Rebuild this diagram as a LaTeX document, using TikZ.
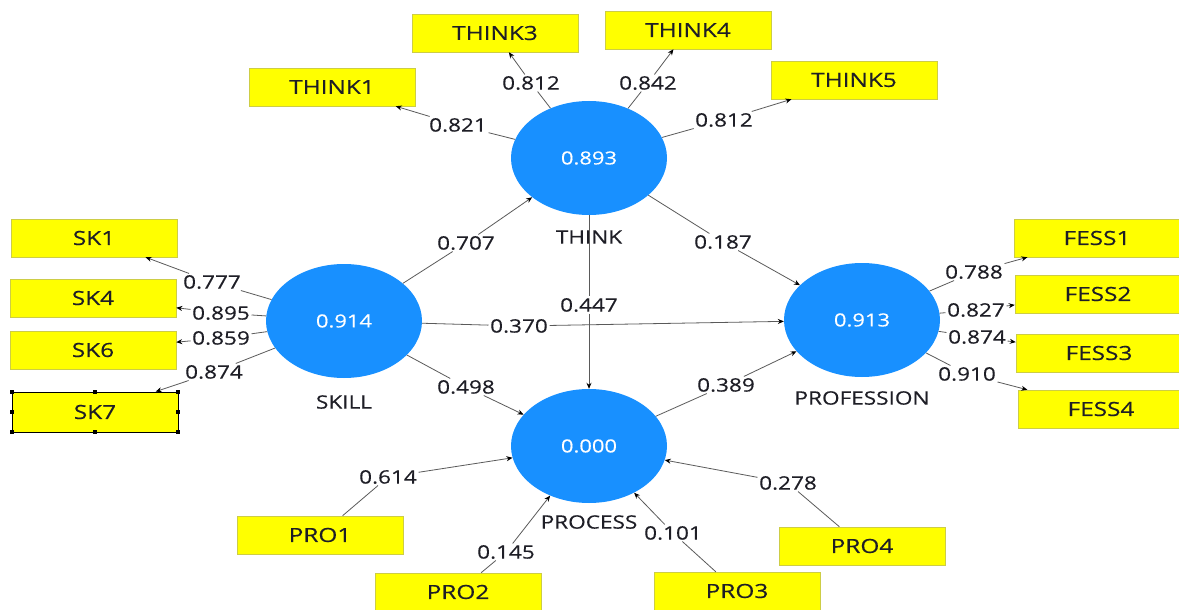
\documentclass[tikz,border=0pt]{standalone}
\usepackage{fontspec}
\setmainfont{Open Sans}
\newfontfamily\plsfont[FakeStretch=1.22,FakeBold=0.35]{Open Sans}
\newfontfamily\plsboxfont[FakeStretch=1.25,FakeBold=0.35]{Open Sans}
\usetikzlibrary{shapes.geometric,arrows.meta,calc}
\definecolor{plsblue}{RGB}{24,144,255}
\definecolor{plsyellow}{RGB}{255,255,0}
\definecolor{plsedge}{RGB}{205,205,70}
\definecolor{plsline}{RGB}{90,90,90}
\definecolor{plstext}{RGB}{30,30,38}

\begin{document}
\begin{tikzpicture}[x=1pt,y=-1pt,
  latent/.style={ellipse, fill=plsblue, minimum width=156pt, minimum height=114pt,
    inner sep=0pt, text=white, font=\plsfont\fontsize{18}{20}\selectfont},
  ind/.style={rectangle, fill=plsyellow, draw=plsedge, line width=0.5pt,
    minimum width=166pt, minimum height=38pt, inner sep=0pt, text=plstext,
    font=\plsboxfont\fontsize{19.5}{22}\selectfont},
  coef/.style={fill=white, inner sep=1.5pt, text=plstext,
    font=\plsfont\fontsize{18.5}{20}\selectfont},
  lvname/.style={inner sep=0pt, text=plstext, font=\plsfont\fontsize{18.5}{20}\selectfont},
  link/.style={draw=plsline, line width=0.8pt},
  tip/.style={-{Stealth[length=6pt,width=5pt,black]}}
]
\useasboundingbox[fill=white] (0,0) rectangle (1179,610);

% latent variables
\node[latent] (think) at (589,158) {0.893};
\node[latent] (skill) at (344,321) {0.914};
\node[latent] (prof)  at (862,320) {0.913};
\node[latent] (proc)  at (589,446) {0.000};

\node[lvname] (nthink) at (589,237) {THINK};
\node[lvname] (nskill) at (344,402) {SKILL};
\node[lvname] (nprof)  at (862,398) {PROFESSION};
\node[lvname] (nproc)  at (589,522) {PROCESS};

% indicators
\node[ind] (th1) at (332,87)  {THINK1};
\node[ind] (th3) at (495,33)  {THINK3};
\node[ind] (th4) at (688,30)  {THINK4};
\node[ind] (th5) at (854,80)  {THINK5};

\node[ind] (sk1) at (94,238)  {SK1};
\node[ind] (sk4) at (93,298)  {SK4};
\node[ind] (sk6) at (93,350)  {SK6};
\node[ind, draw=black, line width=0.8pt, minimum height=40pt] (sk7) at (95,412) {SK7};
\foreach \a in {north west,north,north east,east,south east,south,south west,west}
  \fill[black] (sk7.\a) +(-2,-2) rectangle +(2,2);

\node[ind] (f1) at (1097,238) {FESS1};
\node[ind] (f2) at (1098,294) {FESS2};
\node[ind] (f3) at (1099,353) {FESS3};
\node[ind] (f4) at (1101,409) {FESS4};

\node[ind] (p1) at (320,535) {PRO1};
\node[ind] (p2) at (458,592) {PRO2};
\node[ind] (p3) at (737,591) {PRO3};
\node[ind] (p4) at (862,546) {PRO4};

% path coefficients and loadings
\node[coef] (c821)  at (458,125) {0.821};
\node[coef] (c812a) at (531,83)  {0.812};
\node[coef] (c842)  at (648,83)  {0.842};
\node[coef] (c812b) at (724,120) {0.812};

\node[coef] (c777)  at (212,282) {0.777};
\node[coef] (c895)  at (221,313) {0.895};
\node[coef] (c859)  at (221,338) {0.859};
\node[coef] (c874a) at (214,372) {0.874};

\node[coef] (c788)  at (974,272) {0.788};
\node[coef] (c827)  at (976,310) {0.827};
\node[coef] (c874b) at (977,337) {0.874};
\node[coef] (c910)  at (967,374) {0.910};

\node[coef] (c707)  at (466,243) {0.707};
\node[coef] (c187)  at (723,242) {0.187};
\node[coef] (c447)  at (589,305) {0.447};
\node[coef] (c370)  at (519,326) {0.370};
\node[coef] (c498)  at (466,387) {0.498};
\node[coef] (c389)  at (726,385) {0.389};

\node[coef] (c614)  at (388,477) {0.614};
\node[coef] (c145)  at (506,552) {0.145};
\node[coef] (c101)  at (673,533) {0.101};
\node[coef] (c278)  at (788,483) {0.278};

% outer loadings
\draw[link,tip] (think) -- (c821)  -- (th1);
\draw[link,tip] (think) -- (c812a) -- (th3);
\draw[link,tip] (think) -- (c842)  -- (th4);
\draw[link,tip] (think) -- (c812b) -- (th5);

\draw[link,tip] (skill) -- (c777)  -- (sk1);
\draw[link,tip] (skill) -- (c895)  -- (sk4);
\draw[link,tip] (skill) -- (c859)  -- (sk6);
\draw[link,tip] (skill) -- (c874a) -- (sk7);

\draw[link,tip] (prof) -- (c788)  -- (f1);
\draw[link,tip] (prof) -- (c827)  -- (f2);
\draw[link,tip] (prof) -- (c874b) -- (f3);
\draw[link,tip] (prof) -- (c910)  -- (f4);

\draw[link,tip] (p1) -- (c614) -- (proc);
\draw[link,tip] (p2) -- (c145) -- (proc);
\draw[link,tip] (p3) -- (c101) -- (proc);
\draw[link,tip] (p4) -- (c278) -- (proc);

% structural paths
\draw[link,tip] (skill) -- (c707) -- (think);
\draw[link,tip] (think) -- (c187) -- (prof);
\draw[link,tip] (think) -- (c447) -- (proc);
\draw[link,tip] (skill) -- (c370) -- (prof);
\draw[link,tip] (skill) -- (c498) -- (proc);
\draw[link,tip] (proc)  -- (c389) -- (prof);
\end{tikzpicture}
\end{document}
